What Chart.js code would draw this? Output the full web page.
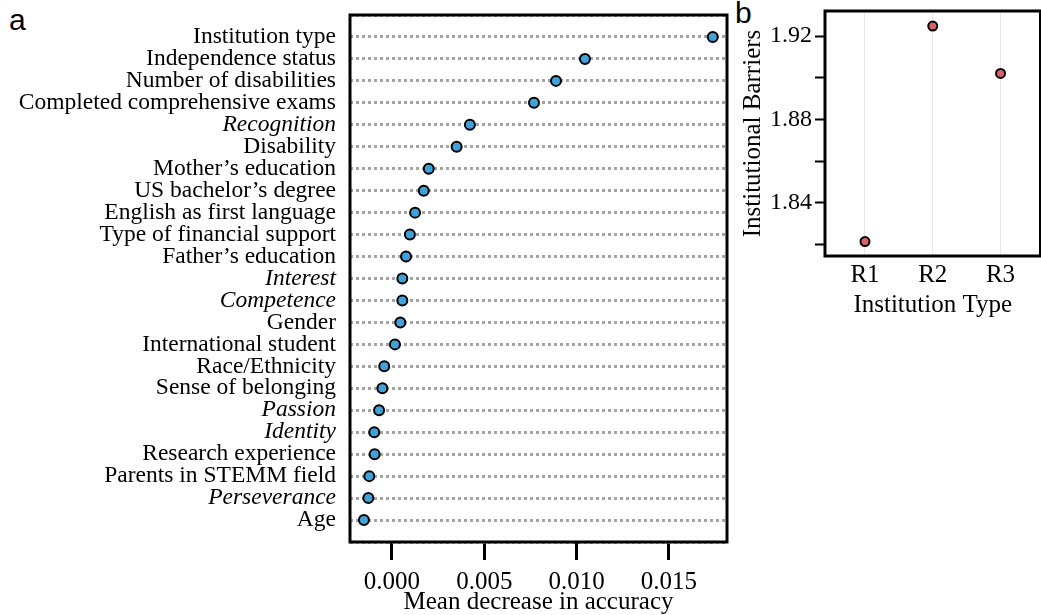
<!DOCTYPE html>
<html>
<head>
<meta charset="utf-8">
<script src="https://cdn.jsdelivr.net/npm/chart.js@4"></script>
<style>
  body { margin: 0; background: #fff; width: 1041px; height: 615px; overflow: hidden; position: relative; }
  .panel-letter { position: absolute; font-family: "Liberation Sans", Arial, sans-serif; font-size: 30px; line-height: 30px; color: #000; }
  #chartA { position: absolute; left: 0; top: 0; }
  #chartB { position: absolute; left: 735px; top: 0; }
</style>
</head>
<body>
<div class="panel-letter" style="left:9px; top:5px;">a</div>
<div class="panel-letter" style="left:735px; top:-2px;">b</div>
<canvas id="chartA" width="735" height="615"></canvas>
<canvas id="chartB" width="312" height="325"></canvas>
<script>
// panel a: permutation importance
const features = [
    "Institution type", "Independence status", "Number of disabilities",
    "Completed comprehensive exams", "Recognition", "Disability",
    "Mother\u2019s education", "US bachelor\u2019s degree", "English as first language",
    "Type of financial support", "Father\u2019s education", "Interest", "Competence",
    "Gender", "International student", "Race/Ethnicity", "Sense of belonging",
    "Passion", "Identity", "Research experience", "Parents in STEMM field",
    "Perseverance", "Age"
];
const importance = [
    0.01737, 0.01045, 0.00888, 0.00769, 0.00422, 0.00350, 0.00199, 0.00172,
    0.00125, 0.00097, 0.00076, 0.00056, 0.00056, 0.00045, 0.00016, -0.00042,
    -0.00052, -0.00070, -0.00096, -0.00094, -0.00123, -0.00128, -0.00152
];
const italicFeatures = ["Recognition", "Interest", "Competence", "Passion", "Identity", "Perseverance"];
const xTicksA = [0, 0.005, 0.010, 0.015];

// panel b: institutional barriers by institution type
const institutionTypes = ["R1", "R2", "R3"];
const barriers = [1.8215, 1.9248, 1.9021];

const serif = "'Liberation Serif', 'Times New Roman', serif";
Chart.defaults.color = "#000";
Chart.defaults.font.family = serif;

const boxPlugin = {
    id: "box",
    afterDraw(chart) {
        const { ctx, chartArea: a } = chart;
        ctx.save();
        ctx.strokeStyle = "#000";
        ctx.lineWidth = 3;
        ctx.strokeRect(a.left, a.top, a.right - a.left, a.bottom - a.top);
        ctx.restore();
    }
};

// drop the label half-height padding chart.js adds around the plot
function noPad(s) {
    s.paddingTop = 0; s.paddingBottom = 0;
    s.paddingLeft = 0; s.paddingRight = 0;
}

new Chart(document.getElementById("chartA"), {
    type: "scatter",
    data: {
        datasets: [{
            data: importance.map((v, i) => ({ x: v, y: i })),
            backgroundColor: "#3fa2db",
            borderColor: "#000",
            borderWidth: 2,
            pointRadius: 5,
            pointHoverRadius: 5
        }]
    },
    options: {
        responsive: false,
        animation: false,
        layout: { padding: { top: 15, right: 8, left: 0, bottom: 0 } },
        plugins: { legend: { display: false }, tooltip: { enabled: false } },
        scales: {
            x: {
                type: "linear",
                min: -0.002274,
                max: 0.018141,
                afterFit: s => { s.height = 73; noPad(s); },
                border: { display: false },
                grid: { drawOnChartArea: false, drawTicks: true, tickLength: 18, tickWidth: 3, tickColor: "#000" },
                afterBuildTicks: s => { s.ticks = xTicksA.map(v => ({ value: v })); },
                ticks: {
                    font: { size: 25 },
                    padding: 7,
                    callback: v => v.toFixed(3)
                },
                title: {
                    display: true,
                    text: "Mean decrease in accuracy",
                    font: { size: 25, lineHeight: 1 },
                    padding: { top: 0, bottom: 0 }
                }
            },
            y: {
                type: "linear",
                reverse: true,
                min: -1,
                max: features.length,
                afterFit: s => { s.width = 350; noPad(s); },
                border: { display: false, dash: [3, 3] },
                grid: { color: "#a3a3a3", lineWidth: 3, drawTicks: false },
                ticks: {
                    stepSize: 1,
                    autoSkip: false,
                    padding: 14,
                    font: c => ({
                        size: 23.5,
                        family: serif,
                        style: italicFeatures.includes(features[c.tick && c.tick.value]) ? "italic" : "normal"
                    }),
                    callback: v => features[v] || ""
                }
            }
        }
    },
    plugins: [boxPlugin]
});

new Chart(document.getElementById("chartB"), {
    type: "scatter",
    data: {
        datasets: [{
            data: barriers.map((v, i) => ({ x: i + 1, y: v })),
            backgroundColor: "#d95f6b",
            borderColor: "#000",
            borderWidth: 2,
            pointRadius: 4.5,
            pointHoverRadius: 4.5
        }]
    },
    options: {
        responsive: false,
        animation: false,
        layout: { padding: { top: 11, right: 1, left: 0, bottom: 0 } },
        plugins: { legend: { display: false }, tooltip: { enabled: false } },
        scales: {
            x: {
                type: "linear",
                min: 0.41,
                max: 3.59,
                afterFit: s => { s.height = 69; noPad(s); },
                border: { display: false },
                grid: { color: "#e6e6e6", lineWidth: 1, drawTicks: false },
                afterBuildTicks: s => { s.ticks = institutionTypes.map((t, i) => ({ value: i + 1 })); },
                ticks: {
                    font: { size: 25 },
                    padding: 4,
                    callback: v => institutionTypes[v - 1] || ""
                },
                title: {
                    display: true,
                    text: "Institution Type",
                    font: { size: 25, lineHeight: 1 },
                    padding: { top: 0, bottom: 7 }
                }
            },
            y: {
                type: "linear",
                min: 1.8146,
                max: 1.932,
                afterFit: s => { s.width = 90; noPad(s); },
                border: { display: false },
                grid: { drawOnChartArea: false, drawTicks: true, tickLength: 10, tickWidth: 2, tickColor: "#000" },
                ticks: {
                    stepSize: 0.02,
                    includeBounds: false,
                    padding: 3,
                    font: { size: 24 },
                    callback: v => (Math.round(v * 100) % 4 === 0 ? v.toFixed(2) : "")
                },
                title: {
                    display: true,
                    text: "Institutional Barriers",
                    font: { size: 25, lineHeight: 1 },
                    padding: { top: 6, bottom: 0 }
                }
            }
        }
    },
    plugins: [boxPlugin]
});
</script>
</body>
</html>
